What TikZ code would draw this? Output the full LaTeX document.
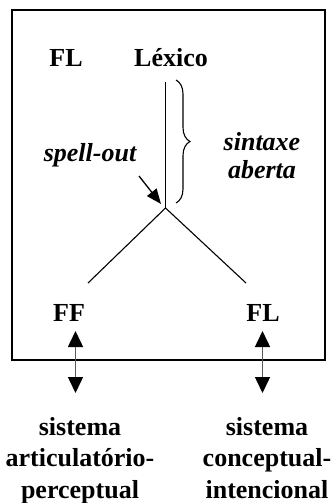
\documentclass[tikz,border=0pt]{standalone}
\usepackage{fontspec}
\setmainfont{Liberation Serif}
\usetikzlibrary{arrows.meta,decorations.pathreplacing}
\begin{document}
\begin{tikzpicture}[x=1pt,y=-1pt,
  lbl/.style={font=\fontsize{26}{30}\selectfont\bfseries, inner sep=0pt},
  ilbl/.style={font=\fontsize{26}{28}\selectfont\bfseries\itshape, inner sep=0pt, align=center},
  sys/.style={font=\fontsize{26}{31.5}\selectfont\bfseries, inner sep=0pt, align=center, anchor=north},
  thin line/.style={line width=1.1pt},
  dbl/.style={line width=1.5pt, draw=black!65, {Triangle[length=16pt,width=15pt,color=black]}-{Triangle[length=16pt,width=15pt,color=black]}}
]
\useasboundingbox (0,0) rectangle (330,503);
\node[draw, line width=2.4pt, minimum width=313pt, minimum height=350pt, inner sep=0pt] (box) at (168.5,185) {};
\node[lbl] (fltop) at (66,58) {FL};
\node[lbl] (lex) at (171,58) {Léxico};
\coordinate (vtop) at (165.5,82);
\coordinate (apex) at (165.5,208);
\draw[thin line] (vtop) -- (apex);
\coordinate (ltip) at (88,283);
\coordinate (rtip) at (246,283);
\draw[thin line] (apex) -- (ltip);
\draw[thin line] (apex) -- (rtip);
\coordinate (btop) at (176,80);
\coordinate (bbot) at (176,203);
\draw[thin line, decoration={brace, amplitude=14pt}, decorate] (btop) -- (bbot);
\node[ilbl] (sint) at (262,156) {sintaxe\\aberta};
\node[ilbl] (spell) at (90,155) {spell-out};
\coordinate (sa) at (139,176);
\coordinate (sb) at (161,204);
\draw[line width=1.3pt, -{Triangle[length=15pt,width=12pt]}] (sa) -- (sb);
\node[lbl] (ff) at (69,313) {FF};
\node[lbl] (flb) at (263,313) {FL};
\coordinate (la) at (75.5,331);
\coordinate (lb) at (75.5,393);
\coordinate (ra) at (262.5,331);
\coordinate (rb) at (262.5,393);
\draw[dbl] (la) -- (lb);
\draw[dbl] (ra) -- (rb);
\node[sys] (sysl) at (80,417) {sistema\\articulatório-\\perceptual};
\node[sys] (sysr) at (267,417) {sistema\\conceptual-\\intencional};
\end{tikzpicture}
\end{document}
